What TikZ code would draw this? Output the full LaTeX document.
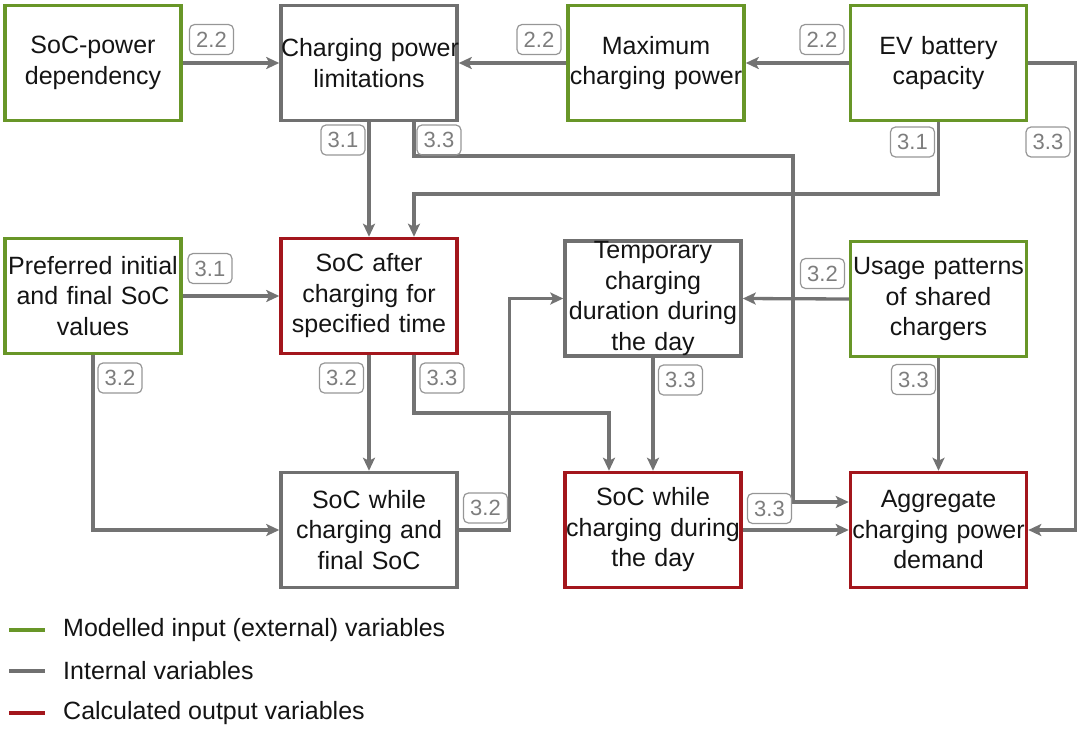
\documentclass[tikz,border=0pt]{standalone}
\usepackage{fontspec}
\setmainfont{Liberation Sans}
\usetikzlibrary{arrows.meta}
\definecolor{cgreen}{RGB}{104,150,40}
\definecolor{cred}{RGB}{163,22,28}
\definecolor{cgray}{RGB}{112,112,112}
\definecolor{agray}{RGB}{115,115,115}
\definecolor{lgray}{RGB}{150,150,150}
\definecolor{ltext}{RGB}{125,125,125}
\definecolor{ctext}{RGB}{20,20,20}
\begin{document}
\begin{tikzpicture}[x=1pt,y=-1pt,
  box/.style={draw, line width=3.5pt, text width=176pt, minimum height=115pt, inner sep=0pt, align=center, text=ctext, font=\fontsize{25}{30.5}\selectfont},
  inbox/.style={box, draw=cgreen},
  midbox/.style={box, draw=cgray},
  outbox/.style={box, draw=cred},
  arr/.style={draw=agray, line width=3.3pt, -{Stealth[length=13pt,width=12pt,inset=3pt]}},
  lab/.style={draw=lgray, line width=1.2pt, rounded corners=5pt, text=ltext, font=\fontsize{22}{22}\selectfont, minimum width=44pt, minimum height=30pt, inner sep=0pt},
  legtext/.style={anchor=west, inner sep=0pt, text=ctext, font=\fontsize{25}{30}\selectfont}
]
\useasboundingbox (0,0) rectangle (1080,729);

% boxes
\node[inbox]  (A) at (93,63)    {\mbox{SoC-power}\\\mbox{dependency}};
\node[midbox] (B) at (369,63)   {\mbox{Charging power}\\\mbox{limitations}};
\node[inbox]  (C) at (656,63)   {\mbox{Maximum}\\\mbox{charging power}};
\node[inbox]  (D) at (938.5,63) {\mbox{EV battery}\\\mbox{capacity}};
\node[inbox]  (E) at (93,296)   {\mbox{Preferred initial}\\\mbox{and final SoC}\\\mbox{values}};
\node[outbox] (F) at (369,296)  {\mbox{SoC after}\\\mbox{charging for}\\\mbox{specified time}};
\node[midbox] (G) at (653,298.5){\mbox{Temporary}\\\mbox{charging}\\\mbox{duration during}\\\mbox{the day}};
\node[inbox]  (H) at (938.5,299){\mbox{Usage patterns}\\\mbox{of shared}\\\mbox{chargers}};
\node[midbox] (I) at (369,530)  {\mbox{SoC while}\\\mbox{charging and}\\\mbox{final SoC}};
\node[outbox] (J) at (653,530)  {\mbox{SoC while}\\\mbox{charging during}\\\mbox{the day}};
\node[outbox] (K) at (938.5,530){\mbox{Aggregate}\\\mbox{charging power}\\\mbox{demand}};

% connectors
\draw[arr] (A.east) -- (B.west);
\draw[arr] (C.west) -- (B.east);
\draw[arr] (D.west) -- (C.east);
\draw[arr] (D.east) -- ++(47,0) |- (K.east);
\draw[arr] (B.south) -- (F.north);
\draw[arr] ([xshift=45pt]B.south) |- (793,156) |- ([yshift=28pt]K.west);
\draw[arr] (D.south) |- (414,194) -- ([xshift=45pt]F.north);
\draw[arr] (E.east) -- (F.west);
\draw[arr] (E.south) |- (I.west);
\draw[arr] (F.south) -- (I.north);
\draw[arr] ([xshift=45pt]F.south) |- (609,413) -- ([xshift=-44pt]J.north);
\draw[arr] (I.east) -- ++(51,0) |- (G.west);
\draw[arr] (H.west) -- (G.east);
\draw[arr] (G.south) -- (J.north);
\draw[arr] (H.south) -- (K.north);
\draw[arr] (J.east) -- (K.west);

% labels
\node[lab] (l1)  at (211.5,39.5) {2.2};
\node[lab] (l2)  at (539,39.5)   {2.2};
\node[lab] (l3)  at (822,39.5)   {2.2};
\node[lab] (l4)  at (343,140)    {3.1};
\node[lab] (l5)  at (439,140)    {3.3};
\node[lab] (l6)  at (912.5,142)  {3.1};
\node[lab] (l7)  at (1048,142)   {3.3};
\node[lab] (l8)  at (210,268.5)  {3.1};
\node[lab] (l9)  at (120,378)    {3.2};
\node[lab] (l10) at (341.5,378)  {3.2};
\node[lab] (l11) at (442,378)    {3.3};
\node[lab] (l12) at (822.5,273.5){3.2};
\node[lab] (l13) at (680.5,380)  {3.3};
\node[lab] (l14) at (913.5,379.5){3.3};
\node[lab] (l15) at (485.5,508)  {3.2};
\node[lab] (l16) at (769.5,508.5){3.3};

% legend
\draw[cgreen, line width=3.5pt] (9,630) -- (45,630);
\draw[cgray,  line width=3.5pt] (9,671) -- (45,671);
\draw[cred,   line width=3.5pt] (9,713) -- (45,713);
\node[legtext] (t1) at (63,630) {Modelled input (external) variables};
\node[legtext] (t2) at (63,671) {Internal variables};
\node[legtext] (t3) at (63,713) {Calculated output variables};
\end{tikzpicture}
\end{document}
